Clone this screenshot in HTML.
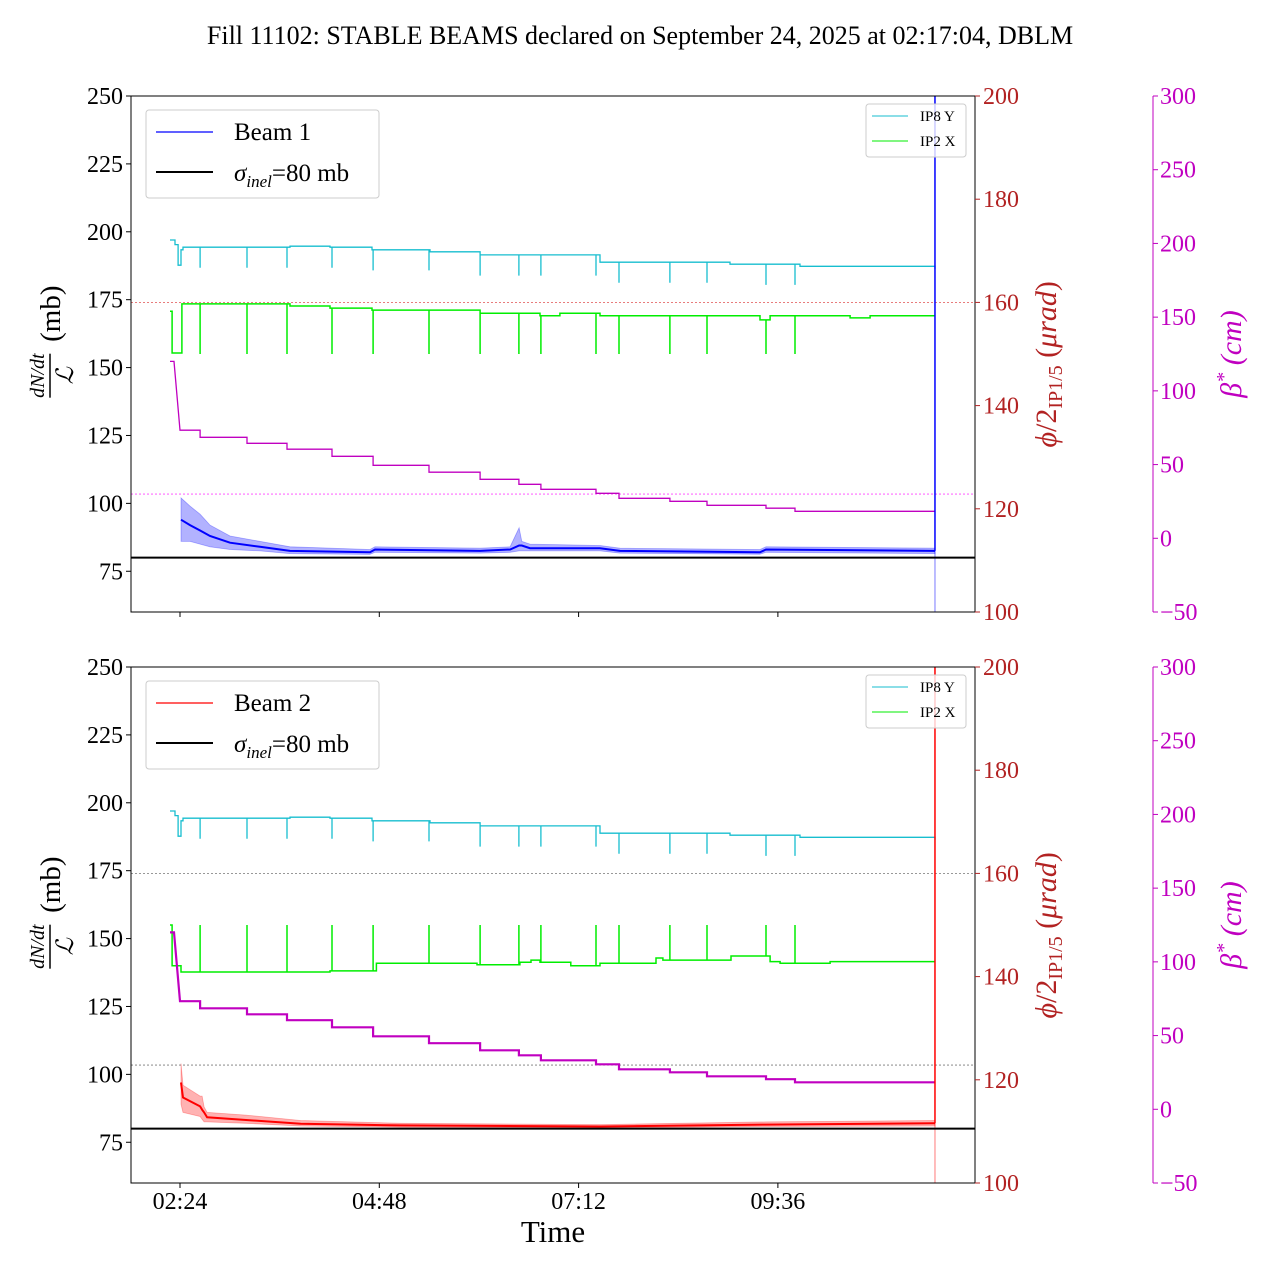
<!DOCTYPE html>
<html><head><meta charset="utf-8"><style>
body{margin:0;background:#fff}
svg{display:block;font-family:"Liberation Serif",serif}
</style></head><body>
<svg id="chart" width="1280" height="1280" viewBox="0 0 1280 1280" xmlns="http://www.w3.org/2000/svg">
<text x="640" y="44" font-size="26" text-anchor="middle">Fill 11102: STABLE BEAMS declared on September 24, 2025 at 02:17:04, DBLM</text>
<g id="plots"></g>
<text x="553" y="1242" font-size="31" text-anchor="middle">Time</text>
</svg>
<script>
// ---- data (times in minutes since 00:00) ----
const xTickLabels = ["02:24","04:48","07:12","09:36"];
const xTickTimes = [144, 288, 432, 576];
const mbTicks = [75,100,125,150,175,200,225,250];
const phiTicks = [100,120,140,160,180,200];
const betaTicks = [-50,0,50,100,150,200,250,300];
const dipTimes = [158.5,192.4,221.3,253.8,283.5,323.9,360.8,388.9,404.8,444.6,461.2,498.0,524.8,567.4,588.4];
const cyanT = [136.8,140.4,142.6,144.7,146.2,223.5,252.4,282.7,324.6,360.8,447.5,519.7,541.4,592,689.5];
const cyanV = [172.1,171.2,167.2,170.2,170.7,170.9,170.7,170.2,169.8,169.2,167.8,167.8,167.4,167.0,166.5];
const greenTopT = [136.8,138.3,144.0,145.4,223.5,252.4,282.7,360.8,404.1,418.5,447.5,563.1,570.4,628.2,642.6,689.5];
const greenTopV = [158.3,150.2,150.2,159.7,159.3,158.9,158.5,157.9,157.4,157.9,157.4,156.6,157.4,157.0,157.4,157.4];
const greenBotT = [136.8,138.3,144.0,144.7,252.4,285.9,358.6,389.6,397.6,404.1,426.4,447.5,487.9,492.9,542.1,570.4,577.6,613.7,689.5];
const greenBotV = [150.0,142.1,142.1,140.9,141.1,142.6,142.3,142.8,143.2,142.8,142.1,142.6,143.6,143.2,144.0,142.9,142.6,142.9,142.9];
const betaT = [136.8,139.7,144.0,158.5,192.4,221.3,253.8,283.5,323.9,360.8,388.9,404.8,444.6,461.2,498.0,524.8,567.4,588.4,689.5];
const betaV = [120,120,73.3,68.5,64.4,60.4,55.6,49.5,44.8,40.0,36.6,33.2,30.5,27.1,25.1,22.4,20.4,18.3,18.3];
const beam1T = [144.7,151.2,158.5,165.7,180.1,201.8,223.5,281.3,284.9,360.8,382.5,389.0,391.0,396.9,447.5,461.9,563.1,567.4,689.5];
const beam1V = [94,92,90,88,85.5,84,82.5,82,83,82.5,83,84.5,84.5,83.5,83.5,82.5,82,83,82.5];
const beam1Lo = [86,86,85,84,83,82.5,81.5,81.2,82,81.7,82,82.5,82.5,82.5,82.5,81.7,81.3,82,81.5];
const beam1Hi = [102,99,96,92,88,86,84,83,84,83.5,84,91,86,85,84.5,83.5,83,84,83.5];
const beam2T = [144.7,146.2,158.5,160.0,161.4,163.6,191.7,231.2,303.5,448.0,567.4,689.5];
const beam2V = [97,91.5,88.2,87,86,84.2,83.2,81.8,81.2,80.8,81.5,82];
const beam2Lo = [89,86,84.5,83.5,82.5,82.5,82,81,80.6,80.3,80.8,81];
const beam2Hi = [104,96,92,92,88,86,85,83,82,81.5,82.5,83];
const endTime = 689.5;

// ---- scales ----
const X0=131, X1=975, H=516;
function xs(t){return 180+(t-144)*1.384;}
function panel(top){
  return {
    mb:v=>top+(250-v)/190*H,
    phi:v=>top+(200-v)/100*H,
    beta:v=>top+(300-v)/350*H
  };
}
const NS="http://www.w3.org/2000/svg";
const root=document.getElementById('plots');
function mk(tag,attrs,parent){const e=document.createElementNS(NS,tag);for(const k in attrs)e.setAttribute(k,attrs[k]);(parent||root).appendChild(e);return e;}
function stepPath(T,V,fy){let d='';for(let i=0;i<T.length;i++){const x=xs(T[i]).toFixed(1),y=fy(V[i]).toFixed(1);if(i===0)d+='M'+x+' '+y;else{d+=' H'+x+' V'+y;}}return d+' H'+xs(T[T.length-1]).toFixed(1);}
function linePath(T,V,fy){return T.map((t,i)=>(i?'L':'M')+xs(t).toFixed(1)+' '+fy(V[i]).toFixed(1)).join(' ');}
function valAt(T,V,t){let v=V[0];for(let i=0;i<T.length;i++){if(T[i]<=t)v=V[i];}return v;}

function drawPanel(top,idx){
  const s=panel(top);
  const g=mk('g',{});
  
  
  const bot=top+H;
  const beamColor=idx===1?'#0000ff':'#ff0000';
  const l1=mk('line',{x1:X0,x2:X1,y1:s.phi(160),y2:s.phi(160),stroke:idx===1?'#e05050':'#777','stroke-width':0.8,'stroke-dasharray':'2,2'},g);
  
  
  const l2=mk('line',{x1:X0,x2:X1,y1:s.beta(30),y2:s.beta(30),stroke:idx===1?'#ff40ff':'#777','stroke-width':0.8,'stroke-dasharray':'2,2'},g);
  
  
  let cd=stepPath(cyanT,cyanV,s.phi);
  dipTimes.forEach(t=>{const x=xs(t),v=valAt(cyanT,cyanV,t);cd+=' M'+x.toFixed(1)+' '+s.phi(v).toFixed(1)+' V'+s.phi(v-4).toFixed(1);});
  const c=mk('path',{d:cd,fill:'none',stroke:'#17becf','stroke-width':1.3},g);
  
  
  const GT=idx===1?greenTopT:greenBotT, GV=idx===1?greenTopV:greenBotV;
  let gd=stepPath(GT,GV,s.phi);
  dipTimes.forEach(t=>{const x=xs(t),v=valAt(GT,GV,t);gd+=' M'+x.toFixed(1)+' '+s.phi(v).toFixed(1)+' V'+s.phi(150).toFixed(1);});
  const gr=mk('path',{d:gd,fill:'none',stroke:'#00ee00','stroke-width':1.5},g);
  
  
  let bd='M'+xs(betaT[0]).toFixed(1)+' '+s.beta(betaV[0]).toFixed(1)+' H'+xs(betaT[1]).toFixed(1)+' L'+xs(betaT[2]).toFixed(1)+' '+s.beta(betaV[2]).toFixed(1);
  for(let i=3;i<betaT.length;i++){bd+=' H'+xs(betaT[i]).toFixed(1)+' V'+s.beta(betaV[i]).toFixed(1);}
  const b=mk('path',{d:bd,fill:'none',stroke:'#c000c0','stroke-width':idx===1?1.3:2.2},g);
  
  
  const BT=idx===1?beam1T:beam2T, BV=idx===1?beam1V:beam2V, BL=idx===1?beam1Lo:beam2Lo, BH=idx===1?beam1Hi:beam2Hi;
  let ad=linePath(BT,BH,s.mb);
  for(let i=BT.length-1;i>=0;i--)ad+=' L'+xs(BT[i]).toFixed(1)+' '+s.mb(BL[i]).toFixed(1);
  ad+=' Z';
  const band=mk('path',{d:ad,fill:beamColor,'fill-opacity':0.3,stroke:beamColor,'stroke-opacity':0.3,'stroke-width':0.8},g);
  
  
  const bl=mk('path',{d:linePath(BT,BV,s.mb),fill:'none',stroke:beamColor,'stroke-width':2},g);
  
  
  const ve=xs(endTime);
  const vl1=mk('line',{x1:ve,x2:ve,y1:top,y2:s.mb(BV[BV.length-1]),stroke:beamColor,'stroke-width':1.5},g);
  
  
  const vl2=mk('line',{x1:ve,x2:ve,y1:s.mb(BV[BV.length-1]),y2:bot,stroke:beamColor,'stroke-opacity':0.35,'stroke-width':1.5},g);
  
  
  const sl=mk('line',{x1:X0,x2:X1,y1:s.mb(80),y2:s.mb(80),stroke:'#000','stroke-width':2},g);
  
  
  const fr=mk('rect',{x:X0,y:top,width:X1-X0,height:H,fill:'none',stroke:'#000','stroke-width':1},g);
  
  
  mbTicks.forEach(v=>{const y=s.mb(v);mk('line',{x1:X0-5,x2:X0,y1:y,y2:y,stroke:'#000'},g);
    const t=mk('text',{x:X0-8,y:y+8,'font-size':24,'text-anchor':'end'},g);t.textContent=v;
    
    });
  phiTicks.forEach(v=>{const y=s.phi(v);mk('line',{x1:X1,x2:X1+5,y1:y,y2:y,stroke:'#b22222'},g);
    const t=mk('text',{x:X1+8,y:y+8,'font-size':24,fill:'#b22222'},g);t.textContent=v;
    
    });
  const bx=1153;
  const sp=mk('line',{x1:bx,x2:bx,y1:top,y2:bot,stroke:'#c000c0'},g);
  
  
  betaTicks.forEach(v=>{const y=s.beta(v);mk('line',{x1:bx,x2:bx+5,y1:y,y2:y,stroke:'#c000c0'},g);
    const t=mk('text',{x:bx+7,y:y+8,'font-size':24,fill:'#c000c0'},g);t.textContent=(v<0?'\u2212'+(-v):v);
    
    });
  xTickTimes.forEach((tt,i)=>{const x=xs(tt);mk('line',{x1:x,x2:x,y1:bot,y2:bot+5,stroke:'#000'},g);
    if(idx===2){const t=mk('text',{x:x,y:bot+26,'font-size':24,'text-anchor':'middle'},g);t.textContent=xTickLabels[i];
      
      }});
  const cy=top+H*0.48;
  const yl=mk('g',{transform:'translate(62,'+(cy+10)+') rotate(-90)'},g);
  
  
  const t1=mk('text',{x:-22,y:-18,'font-size':20,'font-style':'italic','text-anchor':'middle'},yl);t1.textContent='dN/dt';
  mk('line',{x1:-44,x2:0,y1:-12,y2:-12,stroke:'#000','stroke-width':1.5},yl);
  const t2=mk('text',{x:-22,y:11,'font-size':24,'font-style':'italic','text-anchor':'middle'},yl);t2.textContent='\u2112';
  const t3=mk('text',{x:40,y:-2,'font-size':29,'text-anchor':'middle'},yl);t3.textContent='(mb)';
  const pl=mk('text',{transform:'translate(1056,'+(top+H*0.52)+') rotate(-90)','font-size':30,fill:'#b22222','text-anchor':'middle'},g);
  
  
  pl.innerHTML='<tspan font-style="italic">\u03d5</tspan>/2<tspan font-size="20" dy="6">IP1/5</tspan><tspan dy="-6"> (</tspan><tspan font-style="italic">\u03bcrad</tspan>)';
  const bt=mk('text',{transform:'translate(1241,'+(top+H*0.5)+') rotate(-90)','font-size':30,fill:'#c000c0','text-anchor':'middle','font-style':'italic'},g);
  
  
  bt.innerHTML='\u03b2<tspan font-size="20" dy="-11">*</tspan><tspan dy="11"> (cm)</tspan>';
  const lg=mk('g',{},g);
  
  
  mk('rect',{x:146,y:top+14,width:233,height:88,rx:3,fill:'#fff','fill-opacity':0.8,stroke:'#ccc'},lg);
  mk('line',{x1:156,x2:213,y1:top+36,y2:top+36,stroke:beamColor,'stroke-width':1.2},lg);
  const lt1=mk('text',{x:234,y:top+44,'font-size':25},lg);lt1.textContent='Beam '+idx;
  mk('line',{x1:156,x2:213,y1:top+76,y2:top+76,stroke:'#000','stroke-width':2},lg);
  const lt2=mk('text',{x:234,y:top+85,'font-size':25},lg);
  lt2.innerHTML='<tspan font-style="italic">\u03c3</tspan><tspan font-size="17" dy="6" font-style="italic">inel</tspan><tspan dy="-6">=80 mb</tspan>';
  const sg=mk('g',{},g);
  
  
  mk('rect',{x:866,y:top+8,width:100,height:53,rx:3,fill:'#fff','fill-opacity':0.8,stroke:'#ccc'},sg);
  mk('line',{x1:872,x2:908,y1:top+20,y2:top+20,stroke:'#17becf'},sg);
  const s1=mk('text',{x:920,y:top+25,'font-size':15},sg);s1.textContent='IP8 Y';
  mk('line',{x1:872,x2:908,y1:top+45,y2:top+45,stroke:'#00ee00'},sg);
  const s2=mk('text',{x:920,y:top+50,'font-size':15},sg);s2.textContent='IP2 X';
}
drawPanel(96,1);
drawPanel(667,2);
</script>
</body></html>
